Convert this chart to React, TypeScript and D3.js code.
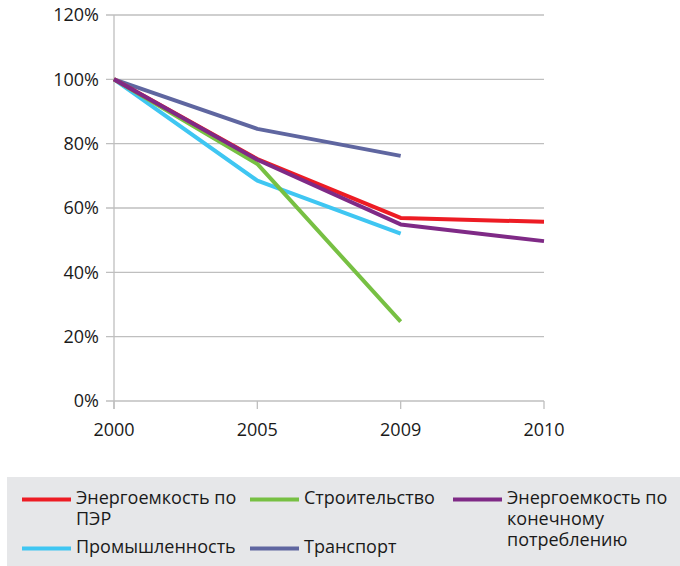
import React from "react";
import * as d3 from "d3";

const categories = ["2000", "2005", "2009", "2010"];
const yTicks = [0, 20, 40, 60, 80, 100, 120];

const seriesNames = [
  "Энергоемкость по ПЭР",
  "Строительство",
  "Энергоемкость по конечному потреблению",
  "Промышленность",
  "Транспорт",
];
const pjerValues: (number | null)[] = [100, 75.2, 56.9, 55.7];
const stroyValues: (number | null)[] = [100, 73.7, 24.7, null];
const konechValues: (number | null)[] = [100, 75, 54.9, 49.7];
const promValues: (number | null)[] = [100, 68.5, 52.0, null];
const transValues: (number | null)[] = [100, 84.6, 76.2, null];

const colors = ["#ed1c24", "#77c043", "#7f2a86", "#3fc6f2", "#5f66a0"];

export default function App() {
  const left = 114, right = 544, top = 15, bottom = 401;
  const x = d3.scalePoint<string>().domain(categories).range([left, right]).padding(0);
  const y = d3.scaleLinear().domain([0, 120]).range([bottom, top]);
  const line = d3
    .line<number | null>()
    .defined((d) => d !== null)
    .x((_, i) => x(categories[i]) as number)
    .y((d) => y(d as number));

  const drawOrder = [
    { vals: transValues, c: colors[4] },
    { vals: promValues, c: colors[3] },
    { vals: stroyValues, c: colors[1] },
    { vals: pjerValues, c: colors[0] },
    { vals: konechValues, c: colors[2] },
  ];

  const font = "Open Sans, sans-serif";
  const legendItems = [
    { lines: ["Энергоемкость по", "ПЭР"], c: colors[0], lx: 22, ty: 504 },
    { lines: ["Строительство"], c: colors[1], lx: 250, ty: 504 },
    { lines: ["Энергоемкость по", "конечному", "потреблению"], c: colors[2], lx: 453, ty: 504 },
    { lines: ["Промышленность"], c: colors[3], lx: 22, ty: 553 },
    { lines: ["Транспорт"], c: colors[4], lx: 250, ty: 553 },
  ];

  return (
    <svg width={680} height={566} style={{ position: "absolute", left: 0, top: 0 }}>
      <rect width={680} height={566} fill="#fff" />
      {yTicks.map((t) => (
        <g key={t}>
          <line x1={106} x2={right} y1={y(t)} y2={y(t)} stroke="#bfbfbf" strokeWidth={1.3} />
          <text x={99} y={y(t)} dy="0.36em" textAnchor="end" fontFamily={font} fontSize={18} fill="#1a1a1a">
            {t}%
          </text>
        </g>
      ))}
      <line x1={left} x2={left} y1={top} y2={bottom + 8} stroke="#bfbfbf" strokeWidth={1.3} />
      {categories.map((c) => (
        <g key={c}>
          <line x1={x(c)} x2={x(c)} y1={bottom} y2={bottom + 8} stroke="#bfbfbf" strokeWidth={1.3} />
          <text x={x(c)} y={430} dy="0.36em" textAnchor="middle" fontFamily={font} fontSize={18} fill="#1a1a1a">
            {c}
          </text>
        </g>
      ))}
      {drawOrder.map((s, i) => (
        <path key={i} d={line(s.vals) || ""} fill="none" stroke={s.c} strokeWidth={4} strokeLinejoin="round" />
      ))}
      <rect x={7} y={477} width={673} height={89} fill="#e6e7e9" />
      {legendItems.map((it, i) => (
        <g key={i}>
          <line x1={it.lx} x2={it.lx + 49} y1={it.ty - 4.5} y2={it.ty - 4.5} stroke={it.c} strokeWidth={4} />
          {it.lines.map((l, j) => (
            <text key={j} x={it.lx + 54} y={it.ty + j * 21} fontFamily={font} fontSize={18} fill="#1a1a1a">
              {l}
            </text>
          ))}
        </g>
      ))}
    </svg>
  );
}
